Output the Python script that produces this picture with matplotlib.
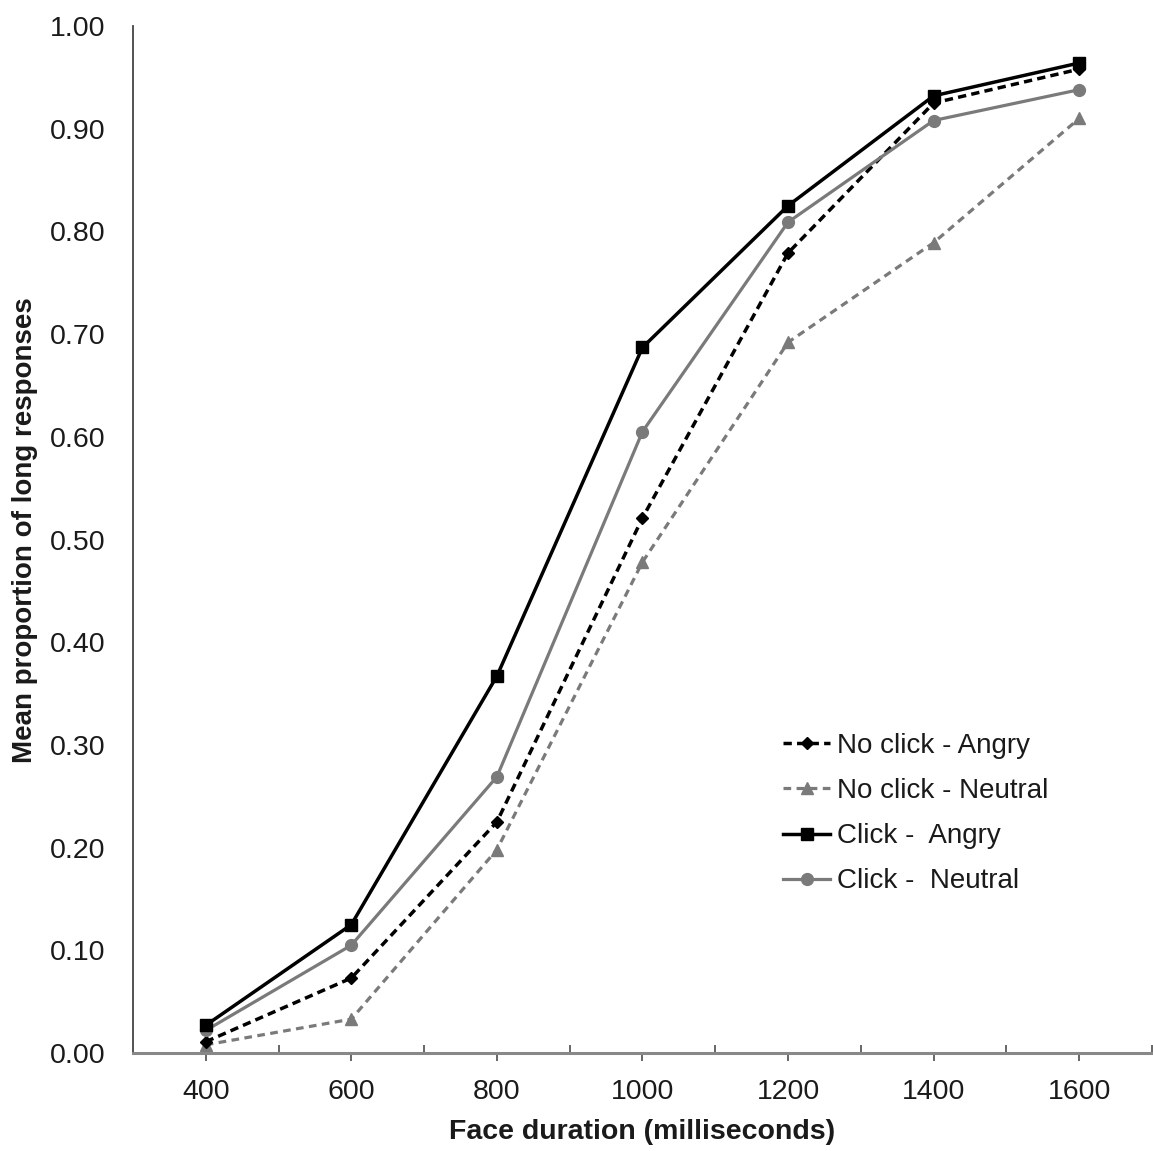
import matplotlib
matplotlib.use("Agg")
import matplotlib.pyplot as plt
from matplotlib.ticker import FixedLocator, FormatStrFormatter

plt.rcParams['font.family'] = ['Liberation Sans', 'DejaVu Sans']

durations = [400, 600, 800, 1000, 1200, 1400, 1600]
noclick_angry = [0.011, 0.073, 0.225, 0.521, 0.779, 0.925, 0.958]
noclick_neutral = [0.008, 0.033, 0.198, 0.478, 0.692, 0.789, 0.910]
click_angry = [0.027, 0.125, 0.367, 0.687, 0.825, 0.932, 0.964]
click_neutral = [0.022, 0.105, 0.269, 0.605, 0.809, 0.908, 0.938]

series_labels = ["No click - Angry", "No click - Neutral", "Click -  Angry", "Click -  Neutral"]
y_ticks = [0.0, 0.1, 0.2, 0.3, 0.4, 0.5, 0.6, 0.7, 0.8, 0.9, 1.0]

BLACK = "#000000"
GRAY = "#7a7a7a"
TXT = "#1a1a1a"

fig = plt.figure(figsize=(11.53, 11.51), dpi=100)
ax = fig.add_axes([0.1153, 0.0851, 0.8838, 0.8923])

ax.plot(durations, noclick_angry, color=BLACK, lw=2.5, dashes=(2.4, 1.5),
        marker="D", ms=6, mfc=BLACK, mec=BLACK, label=series_labels[0], zorder=3)
ax.plot(durations, noclick_neutral, color=GRAY, lw=2.3, dashes=(2.4, 1.7),
        marker="^", ms=8, mfc=GRAY, mec=GRAY, label=series_labels[1], zorder=2)
ax.plot(durations, click_angry, color=BLACK, lw=2.5,
        marker="s", ms=9, mfc=BLACK, mec=BLACK, label=series_labels[2], zorder=4)
ax.plot(durations, click_neutral, color=GRAY, lw=2.3,
        marker="o", ms=8.5, mfc=GRAY, mec=GRAY, label=series_labels[3], zorder=3)

ax.set_xlim(300, 1700)
ax.set_ylim(0, 1.0)

ax.xaxis.set_major_locator(FixedLocator(durations))
ax.xaxis.set_minor_locator(FixedLocator([500, 700, 900, 1100, 1300, 1500, 1700]))
ax.yaxis.set_major_locator(FixedLocator(y_ticks))
ax.yaxis.set_major_formatter(FormatStrFormatter("%.2f"))

ax.tick_params(axis="x", which="major", direction="out", length=6, width=1.4,
               color="#666666", labelsize=20.5, labelcolor=TXT, pad=13)
ax.tick_params(axis="x", which="minor", direction="in", length=6, width=1.4,
               color="#666666")
ax.tick_params(axis="y", which="both", length=0, labelsize=20.5, labelcolor=TXT, pad=20)

for side in ("top", "right"):
    ax.spines[side].set_visible(False)
ax.spines["left"].set_color("#444444")
ax.spines["left"].set_linewidth(1.3)
ax.spines["bottom"].set_color("#888888")
ax.spines["bottom"].set_linewidth(2.2)

ax.set_xlabel("Face duration (milliseconds)", fontsize=20.5, fontweight="bold", color=TXT)
ax.xaxis.set_label_coords(0.5, -0.0765)
ax.xaxis.label.set_va("center")
ax.set_ylabel("Mean proportion of long responses", fontsize=20, fontweight="bold", color=TXT)
ax.yaxis.set_label_coords(-0.106, 0.509)
ax.yaxis.label.set_va("center")

leg = ax.legend(loc="upper left", bbox_to_anchor=(0.638, 0.3117), frameon=False,
                fontsize=20, handlelength=1.7, handletextpad=0.25, labelspacing=0.69,
                borderpad=0, borderaxespad=0, numpoints=1)
for t in leg.get_texts():
    t.set_color(TXT)

fig.savefig("out.png", dpi=100, facecolor="white")
